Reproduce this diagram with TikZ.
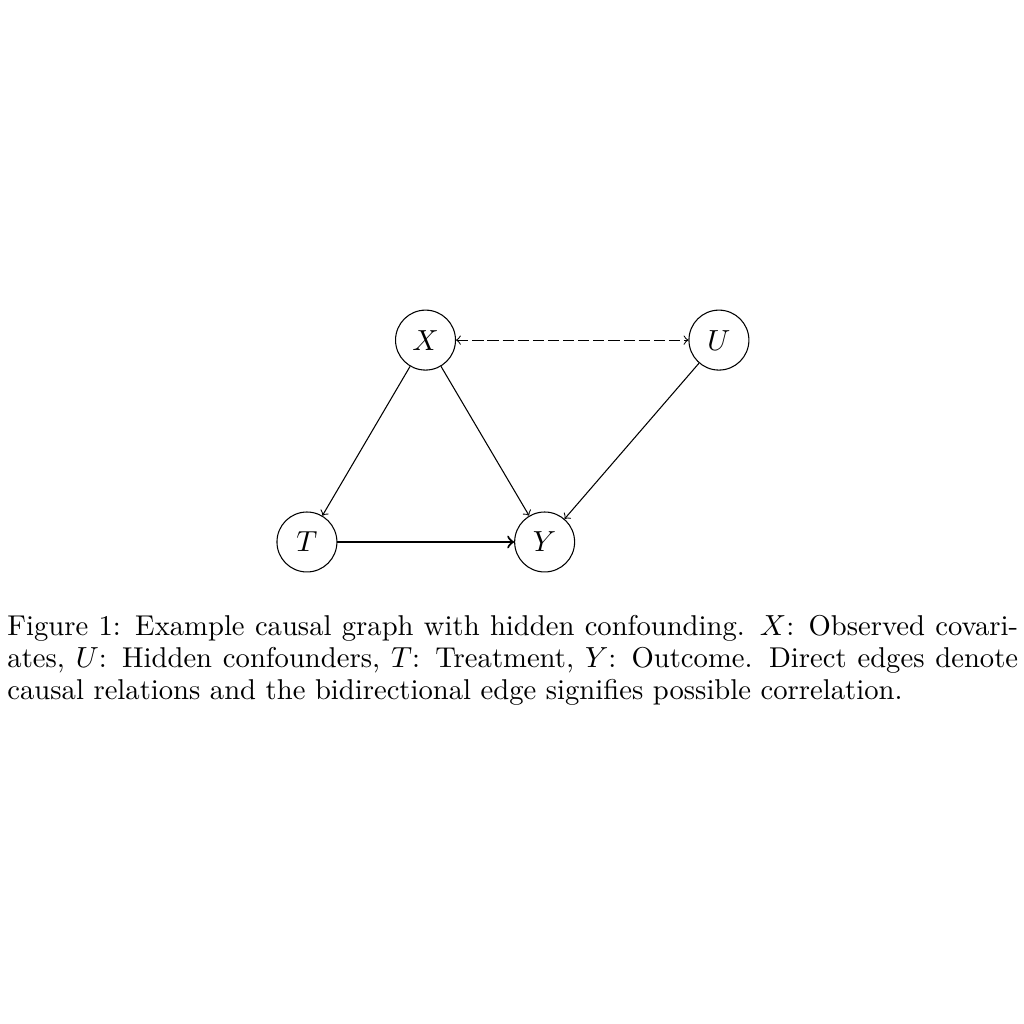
\documentclass[tikz,border=0pt]{standalone}
\usepackage{amsmath}
\usepackage{amssymb}
\usepackage{tikz}
\tikzset{
    var/.style={
           circle,
           draw=black,
           minimum size=22.6pt,
           inner sep=1pt,
           text centered,
           },
    caption/.style={
           text width=381pt,
           align=justify,
           inner sep=0pt,
           anchor=base west,
           },
}

\begin{document}
\fontsize{10.8pt}{12.06pt}\selectfont
\begin{tikzpicture}
    % page size of the figure
    \useasboundingbox (0,0) rectangle (386pt,-386pt);

    % Variables: observed, hidden, treatment and outcome
    \node[var] (X) at (160.4pt,-128.2pt) {$X$};
    \node[var] (U) at (271.0pt,-128.2pt) {$U$};
    \node[var] (T) at (115.7pt,-204.3pt) {$T$};
    \node[var] (Y) at (205.3pt,-204.3pt) {$Y$};

    % draw the causal edges and the correlation
    \path
        (X) edge[->] (T)
        (X) edge[->] (Y)
        (U) edge[->] (Y)
        (T) edge[->, thick] (Y)
        (X) edge[<->, dash pattern=on 4.2pt off 1.5pt] (U);

    % caption below the graph
    \node[caption] (cap) at (2.6pt,-239.5pt)
    {Figure 1: Example causal graph with hidden confounding. $X$: Observed covariates, $U$: Hidden confounders, $T$: Treatment, $Y$: Outcome. Direct edges denote causal relations and the bidirectional edge signifies possible correlation.};
\end{tikzpicture}
\end{document}
